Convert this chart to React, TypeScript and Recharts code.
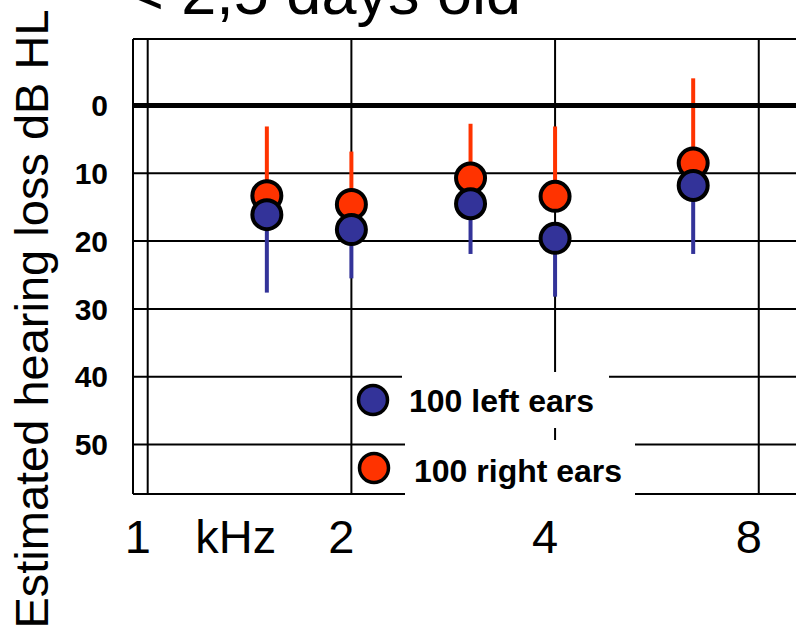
import React from "react";
import { ScatterChart, Scatter, XAxis, YAxis, CartesianGrid, ReferenceLine, ErrorBar, Legend } from "recharts";

// frequencies (kHz) where each pair of means is plotted
const freqKHz = [1.5, 2, 3, 4, 6.4];
// left ears: mean and lower end of the bar (dB HL)
const leftMean = [16.1, 18.3, 14.5, 19.6, 11.8];
const leftLow = [27.6, 25.5, 21.9, 28.2, 21.9];
// right ears: mean and upper end of the bar (dB HL)
const rightMean = [13.3, 14.6, 10.7, 13.4, 8.5];
const rightHigh = [3.1, 6.8, 2.7, 3.1, -4.0];

const octaveTicks = [1, 2, 4, 8];
const dbTicks = [0, 10, 20, 30, 40, 50];
const leftName = "100 left ears";
const rightName = "100 right ears";
const title = "< 2,5 days old";
const yTitle = "Estimated hearing loss dB HL";
const unitLabel = "kHz";

const BLUE = "#333399";
const RED = "#FF3300";
const SANS = "Arial, 'Liberation Sans', Helvetica, sans-serif";

const leftData = freqKHz.map((f, i) => ({ f, db: leftMean[i], err: [0, leftLow[i] - leftMean[i]] }));
const rightData = freqKHz.map((f, i) => ({ f, db: rightMean[i], err: [rightMean[i] - rightHigh[i], 0] }));

const dot = (fill: string) => (p: any) => (
  <circle cx={p.cx} cy={p.cy} r={14.5} fill={fill} stroke="#000" strokeWidth={4} />
);

// the slide prints the numbers a little left of their grid lines
const FreqTick = (props: any) => {
  const { x, y, payload } = props;
  return (
    <g>
      <text x={x - 10} y={y} dy="0.71em" textAnchor="middle" fontSize={47} fontFamily={SANS} fill="#000">
        {payload.value}
      </text>
      {payload.value === 1 ? (
        <text x={x + 88} y={y} dy="0.71em" textAnchor="middle" fontSize={47} fontFamily={SANS} fill="#000">
          {unitLabel}
        </text>
      ) : null}
    </g>
  );
};

// white boxes behind the legend text, like the original slide
const rows = [
  { box: [72, 12, 207, 56], cx: 43, cy: 40, tx: 79, ty: 52 },
  { box: [75, 80, 230, 70], cx: 44, cy: 108, tx: 84, ty: 122 },
];

const LegendBox = (props: any) => {
  const items = [...(props.payload ?? [])].sort((a, b) => String(a.value).localeCompare(String(b.value)));
  return (
    <svg width={320} height={150} style={{ display: "block", overflow: "visible" }}>
      {items.map((it, i) => {
        const r = rows[i];
        return (
          <g key={it.value}>
            <rect x={r.box[0]} y={r.box[1]} width={r.box[2]} height={r.box[3]} fill="#fff" />
            <circle cx={r.cx} cy={r.cy} r={14.5} fill={it.color} stroke="#000" strokeWidth={3.5} />
            <text x={r.tx} y={r.ty} fontSize={32} fontWeight="bold" fontFamily={SANS} fill="#000">
              {it.value}
            </text>
          </g>
        );
      })}
    </svg>
  );
};

export default function App() {
  return (
    <div style={{ position: "fixed", left: 0, top: 0, width: 796, height: 636, overflow: "hidden", background: "#fff" }}>
      <div style={{ position: "relative", width: 810, height: 636 }}>
        <ScatterChart width={810} height={636} margin={{ top: 39, right: 0, bottom: 0, left: 0 }}>
          <CartesianGrid vertical={false} stroke="#000" strokeWidth={2} />
          <XAxis
            dataKey="f"
            type="number"
            scale="log"
            domain={[0.9512, 9.524]}
            allowDataOverflow
            ticks={octaveTicks}
            interval={0}
            height={142}
            axisLine={{ stroke: "#000", strokeWidth: 2 }}
            tickLine={false}
            tickSize={0}
            tickMargin={26}
            tick={<FreqTick />}
          />
          <YAxis
            dataKey="db"
            type="number"
            reversed
            domain={[-9.8, 57.3]}
            allowDataOverflow
            ticks={dbTicks}
            interval={0}
            width={133}
            axisLine={{ stroke: "#000", strokeWidth: 2 }}
            tickLine={false}
            tickSize={0}
            tickMargin={25}
            tick={{ fontSize: 30, fontWeight: "bold", fill: "#000", fontFamily: SANS }}
          />
          <ReferenceLine y={-9.8} stroke="#000" strokeWidth={2} />
          {octaveTicks.map((t) => (
            <ReferenceLine key={t} x={t} stroke="#000" strokeWidth={2} />
          ))}
          <Scatter name={rightName} data={rightData} fill={RED} shape={dot(RED)} isAnimationActive={false}>
            <ErrorBar dataKey="err" direction="y" width={0} stroke={RED} strokeWidth={4} isAnimationActive={false} />
          </Scatter>
          <Scatter name={leftName} data={leftData} fill={BLUE} shape={dot(BLUE)} isAnimationActive={false}>
            <ErrorBar dataKey="err" direction="y" width={0} stroke={BLUE} strokeWidth={4} isAnimationActive={false} />
          </Scatter>
          <ReferenceLine y={0} stroke="#000" strokeWidth={5} />
          <Legend
            layout="horizontal"
            verticalAlign="middle"
            align="center"
            content={<LegendBox />}
            wrapperStyle={{ left: 330, top: 360, width: 320, height: 150 }}
          />
        </ScatterChart>
        <svg width={810} height={636} style={{ position: "absolute", left: 0, top: 0, pointerEvents: "none" }}>
          <text x={521} y={14} textAnchor="end" fontSize={63} fontFamily={SANS} fill="#000">
            {title}
          </text>
          <text
            x={48}
            y={319}
            transform="rotate(-90 48 319)"
            textAnchor="middle"
            fontSize={47}
            fontFamily={SANS}
            fill="#000"
          >
            {yTitle}
          </text>
        </svg>
      </div>
    </div>
  );
}
